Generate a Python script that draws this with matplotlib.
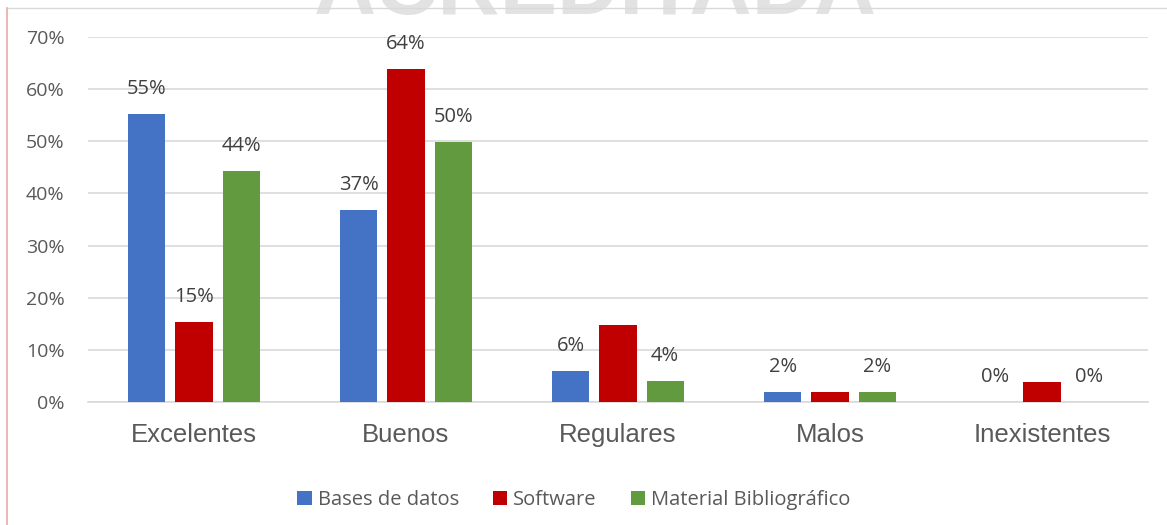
"""
Valoración de recursos: bases de datos, software y material bibliográfico
"""

import numpy as np
import matplotlib as mpl
mpl.use("Agg")
import matplotlib.pyplot as plt
from matplotlib.lines import Line2D

categories = ["Excelentes", "Buenos", "Regulares", "Malos", "Inexistentes"]
series = ["Bases de datos", "Software", "Material Bibliográfico"]
bases = [55.3, 36.8, 5.9, 1.9, 0.0]
software = [15.4, 63.9, 14.8, 1.9, 3.8]
material = [44.3, 49.9, 4.0, 1.9, 0.0]
# data labels as shown (None = no label in the original)
bases_lbl = ["55%", "37%", "6%", "2%", "0%"]
software_lbl = ["15%", "64%", None, None, None]
material_lbl = ["44%", "50%", "4%", "2%", "0%"]
yticks = [0, 10, 20, 30, 40, 50, 60, 70]

colors = ["#4472C4", "#C00000", "#629A3F"]
grey = "#595959"
lfont = "Open Sans"

def main():
    fig = plt.figure(figsize=(11.67, 5.25), dpi=100)
    # faint watermark at the top edge
    fig.text(595/1167, 1 - 14/525, "ACREDITADA", ha="center", va="baseline",
             fontsize=62, fontweight="bold", color="#e2e2e2",
             family="Liberation Sans", zorder=0)
    ax = fig.add_axes([88/1167, 1 - 402/525, (1148-88)/1167, (402-37)/525])
    ax.patch.set_alpha(0)

    x = np.arange(len(categories))
    w = 0.175
    step = 0.222
    data = [bases, software, material]
    labels = [bases_lbl, software_lbl, material_lbl]
    for i, (vals, lbls) in enumerate(zip(data, labels)):
        xs = x + (i - 1) * step
        ax.bar(xs, vals, width=w, color=colors[i], label=series[i], zorder=3)
        for xi, v, l in zip(xs, vals, lbls):
            if l is None:
                continue
            ax.annotate(l, (xi, v), xytext=(0, 18), textcoords="offset points",
                        ha="center", va="center", fontsize=14.5, color="#404040",
                        family=lfont)

    ax.set_xlim(-0.5, len(categories) - 0.5)
    ax.set_ylim(0, 70)
    ax.set_yticks(yticks)
    ax.set_yticklabels([f"{t}%" for t in yticks], family=lfont, fontsize=14, color=grey)
    ax.set_xticks(x)
    ax.set_xticklabels(categories, family="Liberation Sans", fontsize=18.5, color=grey)
    ax.tick_params(axis="x", length=0, pad=15)
    ax.tick_params(axis="y", length=0, pad=17)
    ax.grid(axis="y", color="#d9d9d9", linewidth=1.2, zorder=0)
    for s in ["top", "right", "left"]:
        ax.spines[s].set_visible(False)
    ax.spines["bottom"].set_color("#d9d9d9")
    ax.spines["bottom"].set_linewidth(1.2)

    fig.legend(loc="center", bbox_to_anchor=(574/1167, 1 - 500/525), ncol=3,
               frameon=False, handlelength=0.7, handleheight=0.7,
               handletextpad=0.3, columnspacing=1.7,
               prop={"family": lfont, "size": 14.5}, labelcolor=grey)

    # chart border remnants
    fig.add_artist(Line2D([7/1167, 1], [1 - 8/525, 1 - 8/525], color="#d9d9d9", lw=1))
    fig.add_artist(Line2D([7/1167, 7/1167], [0, 1 - 8/525], color="#e8a9a9", lw=1.2))

    fig.savefig("out.png", dpi=100)

if __name__ == "__main__": main()
